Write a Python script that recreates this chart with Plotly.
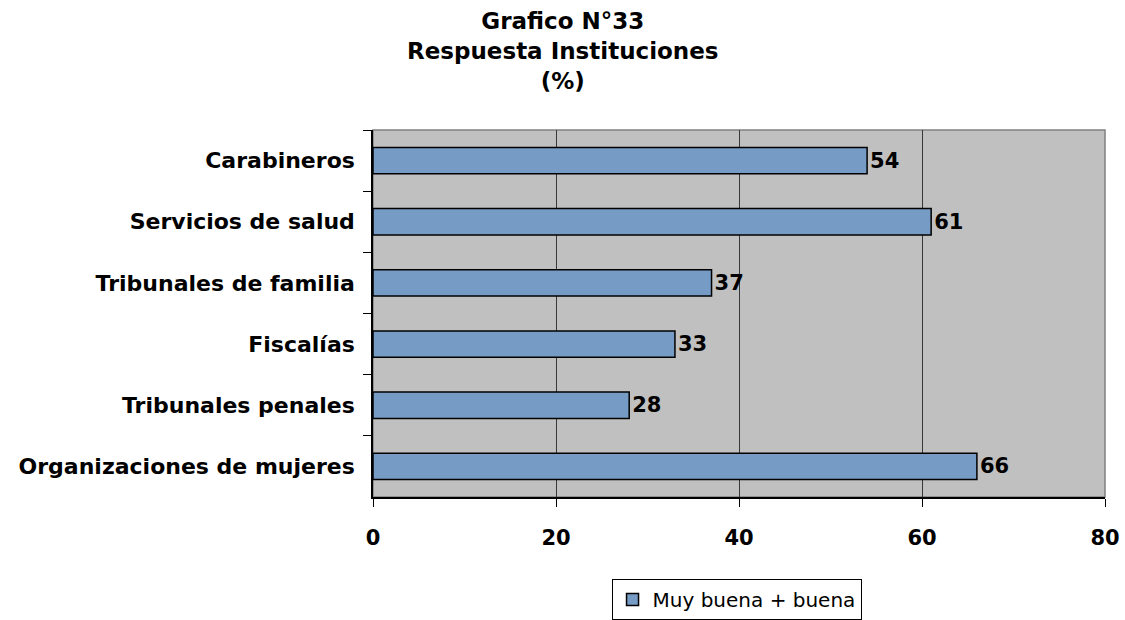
import plotly.graph_objects as go

categories = ["Carabineros", "Servicios de salud", "Tribunales de familia",
              "Fiscalías", "Tribunales penales", "Organizaciones de mujeres"]
values = [54, 61, 37, 33, 28, 66]
series_name = "Muy buena + buena"
x_ticks = [0, 20, 40, 60, 80]
title_lines = ["Grafico N°33", "Respuesta Instituciones", "(%)"]

FONT = "DejaVu Sans, Verdana, sans-serif"

fig = go.Figure()
fig.add_trace(go.Bar(
    y=categories, x=values, orientation="h", name=series_name,
    marker=dict(color="#769CC6", line=dict(color="#000000", width=1.5)),
    text=[str(v) for v in values], textposition="outside",
    textfont=dict(family=FONT, size=21, color="#000000", weight="bold"),
    cliponaxis=False, showlegend=True,
))

fig.update_layout(
    width=1125, height=620,
    paper_bgcolor="#FFFFFF", plot_bgcolor="#C0C0C0",
    margin=dict(l=373, r=20, t=130, b=123, autoexpand=False),
    bargap=0.57,
    font=dict(family=FONT, color="#000000"),
    showlegend=True,
    legend=dict(
        orientation="h", xref="container", yref="container",
        x=0.6547, xanchor="center", y=0.066, yanchor="top",
        bgcolor="#FFFFFF", bordercolor="#000000", borderwidth=1,
        font=dict(family=FONT, size=20, color="#000000"),
    ),
    shapes=[dict(type="rect", xref="paper", yref="paper", x0=0, x1=1, y0=0, y1=1,
                 line=dict(color="#808080", width=1.5), layer="below")],
    annotations=[dict(
        text="<b>" + "<br>".join(title_lines) + "</b>",
        xref="paper", yref="paper", x=0.259, y=1.338,
        xanchor="center", yanchor="top", showarrow=False, align="center",
        font=dict(family=FONT, size=23, color="#000000"),
    )],
)

fig.update_xaxes(
    range=[0, 80], tickvals=x_ticks, ticktext=[str(t) for t in x_ticks],
    automargin=False,
    showgrid=True, gridcolor="#383838", gridwidth=1,
    zeroline=False, showline=True, linecolor="#000000", linewidth=1.5,
    ticks="outside", ticklen=8, tickcolor="#000000",
    tickfont=dict(family=FONT, size=21, color="#000000", weight="bold"),
    ticklabelstandoff=13,
)
fig.update_yaxes(
    autorange="reversed", categoryorder="array", categoryarray=categories,
    automargin=False,
    showgrid=False, showline=True, linecolor="#000000", linewidth=1.5,
    ticks="outside", ticklen=8, tickcolor="#000000", tickson="boundaries",
    tickfont=dict(family=FONT, size=22, color="#000000", weight="bold"),
    ticklabelstandoff=12,
)

fig.write_html("out.html", config={"displayModeBar": False},
               post_script="document.body.style.margin='0';document.body.style.padding='0';")
